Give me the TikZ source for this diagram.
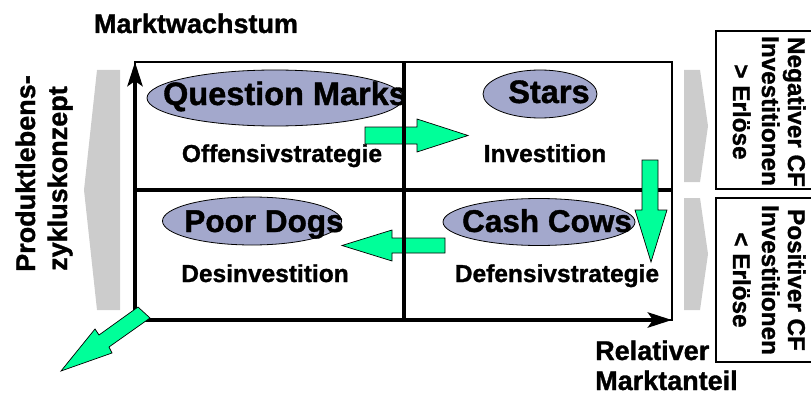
\documentclass[tikz,border=0pt]{standalone}
\usepackage{fontspec}
\setmainfont{Liberation Sans}[BoldFeatures={FakeBold=1.2}]
\usetikzlibrary{arrows.meta,shapes.geometric}
\definecolor{cellblue}{RGB}{163,168,204}
\definecolor{flowgreen}{RGB}{0,255,153}
\definecolor{bandgrey}{RGB}{204,204,204}
\newcommand{\setsz}[1]{\fontsize{#1}{#1}\selectfont\bfseries}
\begin{document}
\begin{tikzpicture}[x=1pt,y=-1pt,
  lbl/.style={inner sep=0pt},
  quad/.style={shape=ellipse, draw=black, fill=cellblue, line width=0.8pt, inner sep=0pt},
  flow/.style={fill=flowgreen, draw=black, line width=0.7pt, line join=miter},
  band/.style={fill=bandgrey, draw=none},
  frameline/.style={line width=2.5pt},
  midline/.style={line width=4pt},
  axisline/.style={line width=4.5pt, -{Stealth[length=24pt,width=15pt,inset=5pt]}},
  cfbox/.style={line width=1.2pt},
]
\clip (0,0) rectangle (811,396);

% grey bands beside the matrix
\fill[band] (97,70) -- (120,70) -- (120,310) -- (97,310) -- (84,190) -- cycle;
\fill[band] (684,70) -- (700,70) -- (708,126) -- (700,182) -- (684,182) -- cycle;
\fill[band] (684,198) -- (700,198) -- (708,254) -- (700,310) -- (684,310) -- cycle;

% cash-flow boxes on the right
\draw[cfbox] (716,31) rectangle (830,189);
\draw[cfbox] (716,198) rectangle (830,362);

% flow arrows crossing the grid lines
\draw[flow] (365,127) -- (417,127) -- (417,119) -- (468,135.5) -- (417,152) -- (417,144) -- (365,144) -- cycle;
\draw[flow] (445,238) -- (392,238) -- (392,230) -- (342,245.5) -- (392,261) -- (392,253) -- (445,253) -- cycle;

% matrix frame and grid
\coordinate (origin) at (135,320);
\coordinate (ytip) at (135,62);
\coordinate (xtip) at (672,320);
\draw[frameline] (135,62) rectangle (672,320);
\draw[midline] (135,190) -- (672,190);
\draw[midline] (404,62) -- (404,320);
\draw[axisline] (origin) -- (ytip);
\draw[axisline] (origin) -- (xtip);

% arrow from Stars down to Cash Cows
\draw[flow] (642,160) -- (658,160) -- (658,210) -- (667,210) -- (651,262) -- (635,210) -- (642,210) -- cycle;
% arrow leaving the matrix at the lower left
\draw[flow] (138,307) -- (99,335) -- (95,329) -- (61,371) -- (112,353) -- (109,347) -- (150,318) -- cycle;

% quadrant ellipses
\node[quad, minimum width=256pt, minimum height=56pt] (qmshape) at (275,98) {};
\node[quad, minimum width=114pt, minimum height=48pt] (stshape) at (540,94) {};
\node[quad, minimum width=179pt, minimum height=48pt] (pdshape) at (252,221) {};
\node[quad, minimum width=192pt, minimum height=47pt] (ccshape) at (539,222) {};

\node[lbl, font=\setsz{32.5}, anchor=base] (qm) at (285,105) {Question Marks};
\node[lbl, font=\setsz{32.5}, anchor=base] (st) at (549,103) {Stars};
\node[lbl, font=\setsz{31.5}, anchor=base] (pd) at (264,232) {Poor Dogs};
\node[lbl, font=\setsz{31.5}, anchor=base] (cc) at (547,232) {Cash Cows};

% strategies
\node[lbl, font=\setsz{24.5}, anchor=base] (off) at (282,162) {Offensivstrategie};
\node[lbl, font=\setsz{24.5}, anchor=base] (inv) at (545,162) {Investition};
\node[lbl, font=\setsz{24.5}, anchor=base] (des) at (265,282) {Desinvestition};
\node[lbl, font=\setsz{24.5}, anchor=base] (def) at (557,282) {Defensivstrategie};

% axis titles
\node[lbl, font=\setsz{27}, anchor=base] (growth) at (196,33) {Marktwachstum};
\node[lbl, font=\setsz{27}, anchor=base west] (share1) at (595,360) {Relativer};
\node[lbl, font=\setsz{27}, anchor=base west] (share2) at (595,390) {Marktanteil};
\node[lbl, font=\setsz{27}, rotate=90, anchor=base west] (plc1) at (35,272) {Produktlebens-};
\node[lbl, font=\setsz{27}, rotate=90, anchor=base west] (plc2) at (67,271) {zykluskonzept};

% cash-flow texts
\node[lbl, font=\setsz{24.3}, rotate=-90, anchor=base] (neg1) at (788,112) {Negativer CF};
\node[lbl, font=\setsz{24.3}, rotate=-90, anchor=base] (neg2) at (762,111) {Investitionen};
\node[lbl, font=\setsz{24.3}, rotate=-90, anchor=base] (neg3) at (733,112) {> Erlöse};
\node[lbl, font=\setsz{24.3}, rotate=-90, anchor=base] (pos1) at (788,280) {Positiver CF};
\node[lbl, font=\setsz{24.3}, rotate=-90, anchor=base] (pos2) at (762,280) {Investitionen};
\node[lbl, font=\setsz{24.3}, rotate=-90, anchor=base] (pos3) at (733,280) {< Erlöse};
\end{tikzpicture}
\end{document}
